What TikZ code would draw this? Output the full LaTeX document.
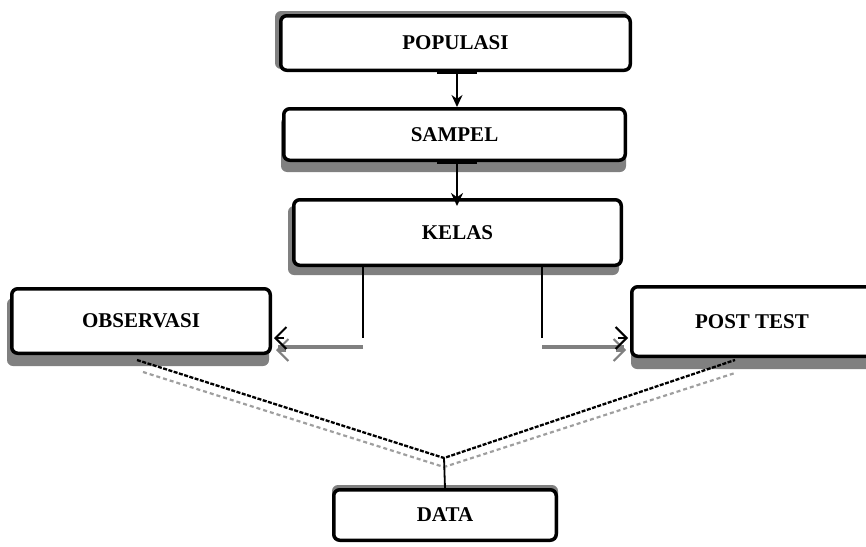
\documentclass[tikz,border=0pt]{standalone}
\usepackage{fontspec}
\setmainfont{Liberation Serif}
\usetikzlibrary{arrows.meta,backgrounds,calc}

\begin{document}
\begin{tikzpicture}[x=1pt,y=-1pt,
  box/.style={draw=black, line width=3.5pt, fill=white, rounded corners=6pt,
              font=\fontsize{21}{25}\selectfont\bfseries, inner sep=0pt},
  shade/.style={fill=gray, rounded corners=6pt},
  link/.style={line width=1.8pt, draw=black},
  drop/.style={line width=3.5pt, draw=gray},
  barb/.style={-{Straight Barb[length=11pt,width=22pt,line width=2pt]}},
  dotline/.style={line width=2.3pt, draw=black, dash pattern=on 4pt off 1.5pt},
  dotshade/.style={line width=2.2pt, draw=gray!75, dash pattern=on 4pt off 3pt}]
\useasboundingbox (0,0) rectangle (866,546);
\clip (0,0) rectangle (866,546);

% boxes
\node[box, minimum width=349.5pt, minimum height=54.5pt] (pop)  at (455.5,43)   {POPULASI};
\node[box, minimum width=341.5pt, minimum height=51.5pt] (sam)  at (454.5,134.5) {SAMPEL};
\node[box, minimum width=327.5pt, minimum height=65.5pt] (kel)  at (457.5,232.5) {KELAS};
\node[box, minimum width=258.5pt, minimum height=64.5pt] (obs)  at (141,321)    {OBSERVASI};
\node[box, minimum width=240.5pt, minimum height=69.5pt] (post) at (752,321.5)  {POST TEST};
\node[box, minimum width=222.5pt, minimum height=50.5pt] (data) at (445,515)    {DATA};

% drop shadows behind the boxes
\begin{scope}[on background layer]
  \fill[shade] ($(pop.south west)+(-4,-3)$)  rectangle ($(pop.north east)+(-4,-3)$);
  \fill[shade] ($(sam.south west)+(-1,10)$)  rectangle ($(sam.north east)+(-1,10)$);
  \fill[shade] ($(kel.south west)+(-4,8)$)   rectangle ($(kel.north east)+(-4,8)$);
  \fill[shade] ($(obs.south west)+(-3,11)$)  rectangle ($(obs.north east)+(-3,11)$);
  \fill[shade] ($(post.south west)+(1,11)$)  rectangle ($(post.north east)+(1,11)$);
  \fill[shade] ($(data.south west)+(0,-3)$)  rectangle ($(data.north east)+(0,-3)$);
\end{scope}

% vertical flow at the top
\coordinate (ax) at (457,0);
\draw[link, {Bar[width=40pt,line width=2pt]}-{Stealth[length=12pt,width=11pt]}]
  (pop.south -| ax) -- (sam.north -| ax);
\draw[link, line width=2.4pt, {Bar[width=40pt,line width=2pt]}-{Stealth[length=13pt,width=12pt]}]
  (sam.south -| ax) -- ($(kel.north -| ax)+(0,8)$);

% KELAS branches to OBSERVASI and POST TEST
\coordinate (bl) at (363,338);
\coordinate (br) at (542,338);
\draw[link] (kel.south -| bl) -- (bl);
\draw[link] (kel.south -| br) -- (br);
\draw[drop] ($(bl)+(0,9)$) -- ($(obs.east |- bl)+(6,9)$);
\draw[drop] ($(br)+(0,9)$) -- ($(post.west |- br)+(-6,9)$);
\draw[drop, barb] ($(obs.east |- bl)+(14,12)$) -- ($(obs.east |- bl)+(4,12)$);
\draw[drop, barb] ($(post.west |- br)+(-14,12)$) -- ($(post.west |- br)+(-4,12)$);
\draw[link, barb] ($(obs.east |- bl)+(12,0)$) -- ($(obs.east |- bl)+(2,0)$);
\draw[link, barb] ($(post.west |- br)+(-12,0)$) -- ($(post.west |- br)+(-2,0)$);

% both results gathered into DATA
\coordinate (apex) at (444,458);
\draw[dotshade] ($(obs.south)+(2,17)$) -- ($(apex)+(0,9)$) -- ($(post.south)+(-17,15)$);
\draw[dotline]  ($(obs.south)+(-4,5)$) -- (apex) -- ($(post.south)+(-17,2)$);
\draw[link] (apex) -- (data.north);
\end{tikzpicture}
\end{document}
